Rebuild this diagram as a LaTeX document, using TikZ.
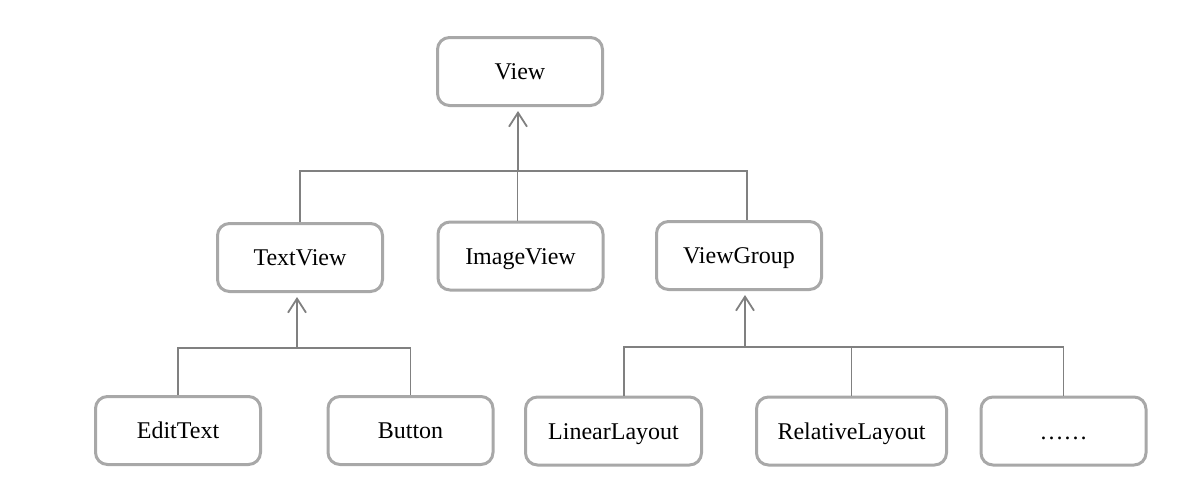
\documentclass[tikz,border=0pt]{standalone}
\usepackage{fontspec}
\setmainfont{Liberation Serif}
\usetikzlibrary{arrows.meta,positioning}
\definecolor{boxgray}{RGB}{168,168,168}
\definecolor{linegray}{RGB}{128,128,128}
\tikzstyle{cls} = [rectangle, rounded corners=6pt, minimum width=82.5pt, minimum height=34pt, draw=boxgray, line width=1.5pt, fill=white, text=black, text height=8pt, text depth=0pt, font=\fontsize{12}{14}\selectfont]
\tikzstyle{link} = [draw=linegray, line width=0.9pt]
\tikzstyle{arrow} = [link, -{Straight Barb[length=7pt,width=9pt]}, shorten >=2pt]

\begin{document}
\begin{tikzpicture}[x=0.5pt, y=-0.5pt]
    \useasboundingbox (0,0) rectangle (1195,498);

    % root
    \node[cls] (view) at (520,71.5) {View};

    % second row
    \node[cls] (textview) at (300,257.5) {TextView};
    \node[cls] (imageview) at (520.5,256) {ImageView};
    \node[cls] (viewgroup) at (739,255.5) {ViewGroup};

    % third row
    \node[cls] (edittext) at (178,430.5) {EditText};
    \node[cls] (button) at (410.5,430.5) {Button};
    \node[cls, minimum width=88pt] (linear) at (613.5,431) {LinearLayout};
    \node[cls, minimum width=95pt] (relative) at (851.5,431) {RelativeLayout};
    \node[cls] (more) at (1063.5,431) {\dots\dots};

    % junctions
    \coordinate (top) at (518,171);
    \coordinate (left) at (297,348);
    \coordinate (right) at (745,347);

    % View <- TextView, ImageView, ViewGroup
    \draw[arrow] (top) -- (top |- view.south);
    \draw[link] (textview.north) |- ([xshift=4pt]viewgroup.north |- top) -- ([xshift=4pt]viewgroup.north);
    \draw[link] ([xshift=-1.5pt]imageview.north) -- ([xshift=-1.5pt]imageview.north |- top);

    % TextView <- EditText, Button
    \draw[arrow] (left) -- (left |- textview.south);
    \draw[link] (edittext.north) |- (button.north |- left) -- (button.north);

    % ViewGroup <- layouts
    \draw[arrow] (right) -- (right |- viewgroup.south);
    \draw[link] ([xshift=5.25pt]linear.north) |- (more.north |- right) -- (more.north);
    \draw[link] (relative.north) -- (relative.north |- right);
\end{tikzpicture}
\end{document}
